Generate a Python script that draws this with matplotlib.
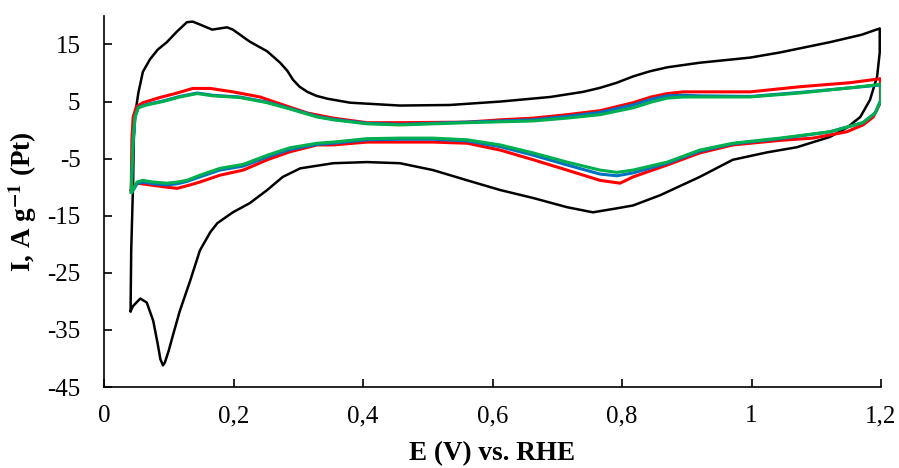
import matplotlib
matplotlib.use('Agg')
import matplotlib.pyplot as plt
from matplotlib.ticker import FuncFormatter, MultipleLocator

# === DATA (E in V vs RHE, I in A/g Pt) ===
# black: forward (anodic) scan
black_fw_E = [0.041, 0.042, 0.045, 0.046, 0.048, 0.053, 0.060, 0.071, 0.083, 0.097,
              0.113, 0.128, 0.137, 0.148, 0.167, 0.190, 0.199, 0.225, 0.252, 0.272,
              0.283, 0.292, 0.302, 0.314, 0.328, 0.345, 0.380, 0.457, 0.534, 0.612,
              0.689, 0.740, 0.766, 0.792, 0.817, 0.843, 0.870, 0.920, 0.998, 1.044,
              1.121, 1.170, 1.198]
black_fw_I = [-31.7, -21.1, -8.8, -1.7, 2.7, 6.5, 10.2, 12.4, 14.1, 15.4,
              17.3, 18.9, 19.0, 18.5, 17.6, 18.0, 17.6, 15.5, 13.8, 11.8,
              10.4, 8.8, 7.6, 6.7, 6.0, 5.5, 4.8, 4.3, 4.4, 5.0,
              5.8, 6.7, 7.4, 8.3, 9.4, 10.3, 11.0, 11.8, 12.7, 13.6,
              15.4, 16.7, 17.8]
# black: backward (cathodic) scan
black_bw_E = [1.198, 1.198, 1.194, 1.183, 1.168, 1.147, 1.121, 1.070, 1.024, 0.971,
              0.920, 0.859, 0.817, 0.792, 0.755, 0.715, 0.663, 0.612, 0.561, 0.508,
              0.457, 0.406, 0.354, 0.303, 0.276, 0.252, 0.225, 0.199, 0.175, 0.164,
              0.148, 0.133, 0.117, 0.107, 0.100, 0.094, 0.091, 0.087, 0.083, 0.076,
              0.066, 0.056, 0.045, 0.041]
black_bw_I = [17.8, 13.6, 9.4, 5.3, 2.3, 0.4, -1.2, -3.0, -3.9, -5.2,
              -8.2, -11.4, -13.2, -13.7, -14.4, -13.5, -11.9, -10.5, -8.8, -7.0,
              -5.8, -5.6, -5.8, -6.7, -8.2, -10.5, -12.8, -14.4, -16.3, -17.9,
              -21.1, -26.4, -31.7, -35.7, -38.6, -40.7, -41.2, -40.1, -37.5, -33.4,
              -30.2, -29.5, -30.8, -31.7]

# red
red_fw_E = [0.042, 0.043, 0.045, 0.050, 0.060, 0.086, 0.113, 0.137, 0.164, 0.199,
            0.241, 0.277, 0.314, 0.354, 0.406, 0.457, 0.561, 0.612, 0.663, 0.715,
            0.766, 0.817, 0.845, 0.870, 0.895, 0.920, 0.998, 1.075, 1.152, 1.199]
red_fw_I = [-10.5, -1.7, 2.3, 4.1, 4.8, 5.7, 6.5, 7.3, 7.3, 6.7,
            5.8, 4.4, 3.0, 2.1, 1.3, 1.3, 1.4, 1.8, 2.1, 2.7,
            3.4, 4.8, 5.8, 6.4, 6.7, 6.7, 6.7, 7.6, 8.3, 9.0]
red_bw_E = [1.199, 1.199, 1.188, 1.172, 1.147, 1.095, 1.044, 0.971, 0.920, 0.870,
            0.817, 0.797, 0.766, 0.715, 0.663, 0.612, 0.561, 0.508, 0.457, 0.406,
            0.354, 0.329, 0.287, 0.252, 0.215, 0.179, 0.148, 0.133, 0.113, 0.097,
            0.071, 0.051, 0.042]
red_bw_I = [9.0, 4.8, 2.3, 0.9, -0.3, -1.4, -1.8, -2.6, -4.0, -6.1,
            -8.2, -9.3, -8.8, -7.0, -5.2, -3.5, -2.3, -2.1, -2.1, -2.1,
            -2.6, -2.6, -3.8, -5.2, -7.0, -7.9, -9.1, -9.6, -10.2, -10.0,
            -9.6, -9.3, -10.5]

# green (blue shares the same potentials)
green_fw_E = [0.042, 0.045, 0.048, 0.053, 0.066, 0.091, 0.117, 0.144, 0.168, 0.210,
              0.252, 0.287, 0.329, 0.354, 0.406, 0.457, 0.561, 0.663, 0.715, 0.766,
              0.817, 0.845, 0.870, 0.895, 0.920, 0.998, 1.075, 1.152, 1.199]
green_fw_I = [-10.9, -1.7, 2.3, 3.9, 4.4, 5.0, 5.8, 6.4, 6.0, 5.7,
              4.8, 3.7, 2.3, 1.8, 1.1, 0.9, 1.3, 1.6, 2.1, 2.7,
              3.9, 4.9, 5.6, 5.8, 5.8, 5.8, 6.5, 7.4, 8.0]
green_bw_E = [1.200, 1.200, 1.191, 1.172, 1.121, 1.044, 0.971, 0.920, 0.870,
              0.817, 0.792, 0.766, 0.715, 0.663, 0.612, 0.561, 0.508, 0.457, 0.406,
              0.354, 0.329, 0.287, 0.252, 0.215, 0.179, 0.148, 0.128, 0.113, 0.097,
              0.076, 0.060, 0.051, 0.043]
green_bw_I = [8.0, 5.3, 3.0, 1.3, -0.3, -1.4, -2.3, -3.5, -5.6,
              -7.0, -7.4, -7.0, -5.6, -4.0, -2.6, -1.7, -1.4, -1.4, -1.5,
              -2.1, -2.3, -3.1, -4.4, -6.0, -6.7, -7.9, -8.8, -9.1, -9.3,
              -9.1, -8.8, -9.1, -10.8]

blue_fw_I = [-10.8, -1.7, 2.4, 4.0, 4.5, 5.1, 5.9, 6.5, 6.1, 5.8,
             4.9, 3.8, 2.4, 1.9, 1.2, 1.0, 1.4, 1.8, 2.4, 3.1,
             4.4, 5.4, 6.0, 6.1, 6.0, 5.9, 6.6, 7.4, 7.9]
blue_bw_I = [7.9, 5.3, 3.0, 1.3, -0.3, -1.5, -2.4, -3.7, -5.8,
             -7.5, -8.0, -7.7, -6.1, -4.4, -2.9, -1.9, -1.6, -1.6, -1.7,
             -2.3, -2.5, -3.4, -4.7, -6.3, -7.0, -8.2, -9.0, -9.4, -9.6,
             -9.4, -9.1, -9.4, -10.9]

# === STYLE ===
plt.rcParams['font.family'] = ['Liberation Serif', 'DejaVu Serif']
plt.rcParams['mathtext.fontset'] = 'stix'
plt.rcParams['axes.unicode_minus'] = False

fig = plt.figure(figsize=(8.99, 4.68), dpi=100)
ax = fig.add_axes([0.1157, 0.173, 0.8643, 0.793])

ax.plot(black_fw_E + black_bw_E, black_fw_I + black_bw_I, color='black', lw=1.8)
ax.plot(red_fw_E + red_bw_E, red_fw_I + red_bw_I, color='#ff0000', lw=2.2)
ax.plot(green_fw_E + green_bw_E, blue_fw_I + blue_bw_I, color='#0070c0', lw=2.2)
ax.plot(green_fw_E + green_bw_E, green_fw_I + green_bw_I, color='#00b050', lw=2.2)

ax.set_xlim(0, 1.2)
ax.set_ylim(-45, 20)
ax.xaxis.set_major_locator(MultipleLocator(0.2))
ax.set_yticks([15, 5, -5, -15, -25, -35, -45])
ax.xaxis.set_major_formatter(FuncFormatter(lambda v, p: f'{v:g}'.replace('.', ',')))

for s in ['top', 'right']:
    ax.spines[s].set_visible(False)
for s in ['left', 'bottom']:
    ax.spines[s].set_linewidth(1.2)

ax.tick_params(axis='both', direction='in', length=6, width=1.2, labelsize=18)
ax.tick_params(axis='x', pad=13)
ax.tick_params(axis='y', pad=17)

ax.set_xlabel('E (V) vs. RHE', fontsize=19.5, fontweight='bold', labelpad=10)
ax.set_ylabel(r'I, A g$^{\mathbf{-1}}$ (Pt)', fontsize=19.5, fontweight='bold', labelpad=6)

fig.savefig('out.png', dpi=100)
